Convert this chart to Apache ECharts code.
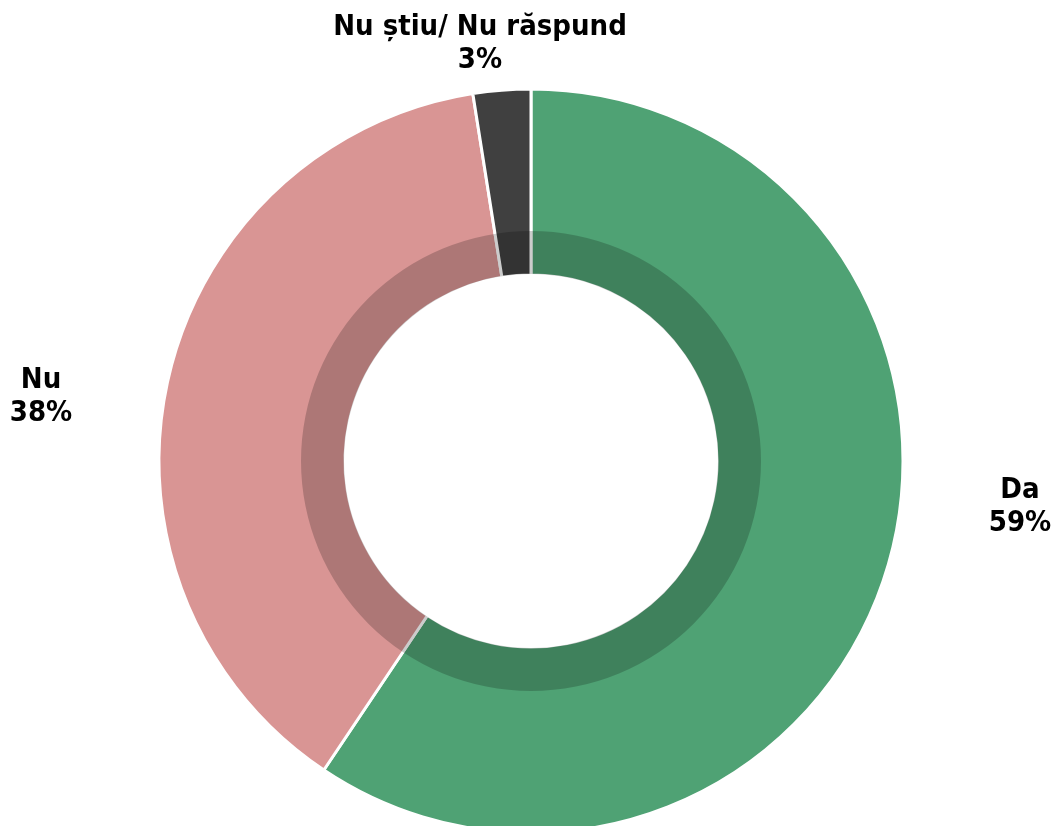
<!DOCTYPE html>
<html>
<head>
<meta charset="utf-8">
<script src="https://cdn.jsdelivr.net/npm/echarts@6/dist/echarts.min.js"></script>
<style>
    html, body { margin: 0; padding: 0; background: #fff; }
    #main { width: 1054px; height: 826px; }
</style>
</head>
<body>
<div id="main"></div>
<script>
// data
var categories = ['Da', 'Nu', 'Nu știu/ Nu răspund']
var values = [59.4, 38.1, 2.5]
var percentLabels = ['59%', '38%', '3%']
var colors = ['#4fa274', '#d99594', '#404040']

// label anchor points (px), same order as categories
var labelPos = [[1020, 507], [41, 397], [480, 44]]

var pieData = []
for (let i = 0; i < categories.length; i++) {
    pieData.push({ name: categories[i], value: values[i], pct: percentLabels[i], itemStyle: { color: colors[i] } })
}

var myChart = echarts.init(document.getElementById('main'));

var option = {
    animation: false,
    series: [
        {
            type: 'pie',
            center: [531, 461],
            radius: [186, 372],
            startAngle: 90,
            clockwise: true,
            data: pieData,
            itemStyle: {
                borderColor: '#fff',
                borderWidth: 3
            },
            label: {
                show: true,
                position: 'outside',
                formatter: function (p) { return p.name + '\n' + p.data.pct },
                fontFamily: 'DejaVu Sans Condensed',
                fontWeight: 'bold',
                fontSize: 29,
                lineHeight: 33,
                color: '#000',
                align: 'center'
            },
            labelLine: { show: false, length: 0, length2: 0 },
            labelLayout: function (params) {
                var pos = labelPos[params.dataIndex]
                return { x: pos[0], y: pos[1], align: 'center', verticalAlign: 'middle' }
            }
        },
        {
            // inner darker ring
            type: 'pie',
            center: [531, 461],
            radius: [187, 230],
            startAngle: 90,
            silent: true,
            data: [{ value: 1 }],
            itemStyle: { color: 'rgba(0,0,0,0.2)' },
            label: { show: false },
            labelLine: { show: false }
        }
    ]
};

myChart.setOption(option);
</script>
</body>
</html>
